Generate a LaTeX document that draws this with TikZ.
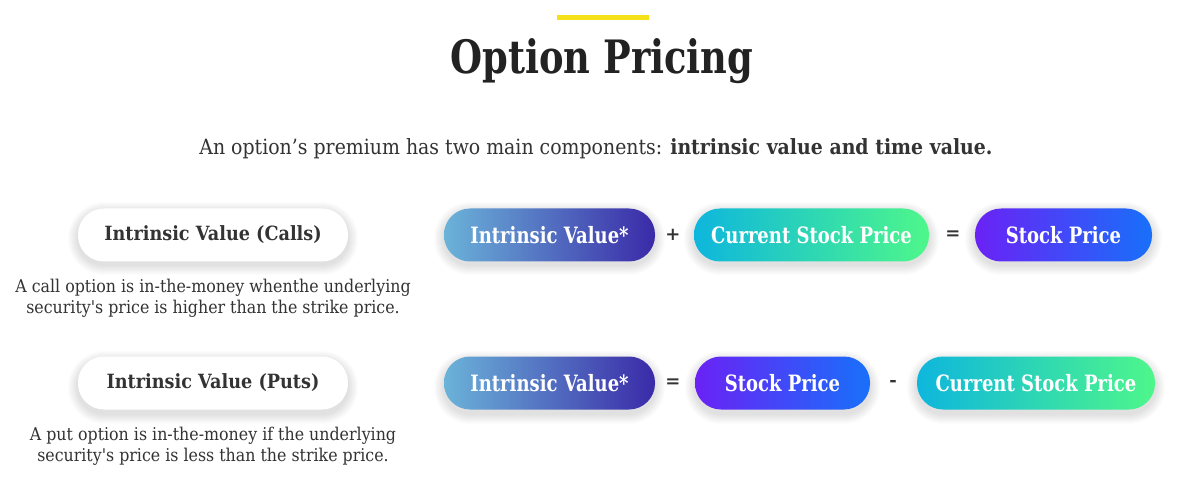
\documentclass[tikz,border=0pt]{standalone}
\usepackage{fontspec}
\setmainfont{DejaVu Serif}
\newfontfamily\pillfont[FakeStretch=0.80]{DejaVu Serif}
\newfontfamily\capfont[FakeStretch=0.90]{DejaVu Serif}
\usetikzlibrary{backgrounds}
\definecolor{yellowbar}{HTML}{F5E11A}
\definecolor{ink}{HTML}{222222}
\definecolor{txt}{HTML}{333333}
\definecolor{ivL}{HTML}{6BB3D9}
\definecolor{ivR}{HTML}{3A2AA8}
\definecolor{csL}{HTML}{0EB6DD}
\definecolor{csR}{HTML}{4EF78A}
\definecolor{spL}{HTML}{6A22F5}
\definecolor{spR}{HTML}{1870FA}
\tikzset{
  pill/.style={rectangle, rounded corners=26pt, minimum height=53pt, inner sep=0pt,
    font=\pillfont\bfseries\fontsize{22.5}{26}\selectfont, text=white},
  whitepill/.style={pill, fill=white, minimum width=270pt, text=txt, font=\capfont\bfseries\fontsize{19.6}{22}\selectfont},
  ivpill/.style={pill, left color=ivL, right color=ivR, minimum width=211pt},
  cspill/.style={pill, left color=csL, right color=csR},
  sppill/.style={pill, left color=spL, right color=spR},
  op/.style={text=txt, font=\bfseries\fontsize{18}{20}\selectfont, inner sep=0pt},
  caption/.style={text=txt, align=center, font=\capfont\fontsize{17.6}{21}\selectfont, inner sep=0pt},
  softshadow/.style={draw=black, draw opacity=0.012, line cap=round}
}
\begin{document}
\begin{tikzpicture}[x=1pt,y=-1pt]
\useasboundingbox (0,0) rectangle (1192,481);
\fill[yellowbar] (557,15) rectangle (649,20.5);
\node[text=ink, font=\pillfont\bfseries\fontsize{46}{50}\selectfont, inner sep=0pt] (title) at (602,61) {Option Pricing};
\node[text=txt, font=\capfont\fontsize{21}{24}\selectfont, inner sep=0pt] (sub) at (596,149) {An option’s premium has two main components: \textbf{intrinsic value and time value.}};

% row 1
\node[whitepill] (calls) at (213,235) {Intrinsic Value (Calls)};
\node[caption] (callcap) at (213,298) {A call option is in-the-money whenthe underlying\\security's price is higher than the strike price.};
\node[ivpill] (iv1) at (549.5,235) {Intrinsic Value*};
\node[op] (plus1) at (673,235) {+};
\node[cspill, minimum width=235pt] (cs1) at (811.5,235) {Current Stock Price};
\node[op] (eq1) at (953,235) {=};
\node[sppill, minimum width=177pt] (sp1) at (1063.5,235) {Stock Price};

% row 2
\node[whitepill] (puts) at (213,383) {Intrinsic Value (Puts)};
\node[caption] (putcap) at (213,446) {A put option is in-the-money if the underlying\\security's price is less than the strike price.};
\node[ivpill] (iv2) at (549.5,383) {Intrinsic Value*};
\node[op] (eq2) at (673,383) {=};
\node[sppill, minimum width=175pt] (sp2) at (782.5,383) {Stock Price};
\node[op] (minus2) at (893,383) {-};
\node[cspill, minimum width=238pt] (cs2) at (1036,383) {Current Stock Price};

% white page and soft shadows
\begin{scope}[on background layer]
\fill[white] (0,0) rectangle (1192,481);
\foreach \n in {calls,puts,iv1,cs1,sp1,iv2,sp2,cs2}{
  \foreach \r in {1,...,10}{
    \draw[softshadow, line width=53pt+2*\r pt]
      ([xshift=26.5pt, yshift=-4pt]\n.west) -- ([xshift=-26.5pt, yshift=-4pt]\n.east);
  }
}
\end{scope}
\end{tikzpicture}
\end{document}
